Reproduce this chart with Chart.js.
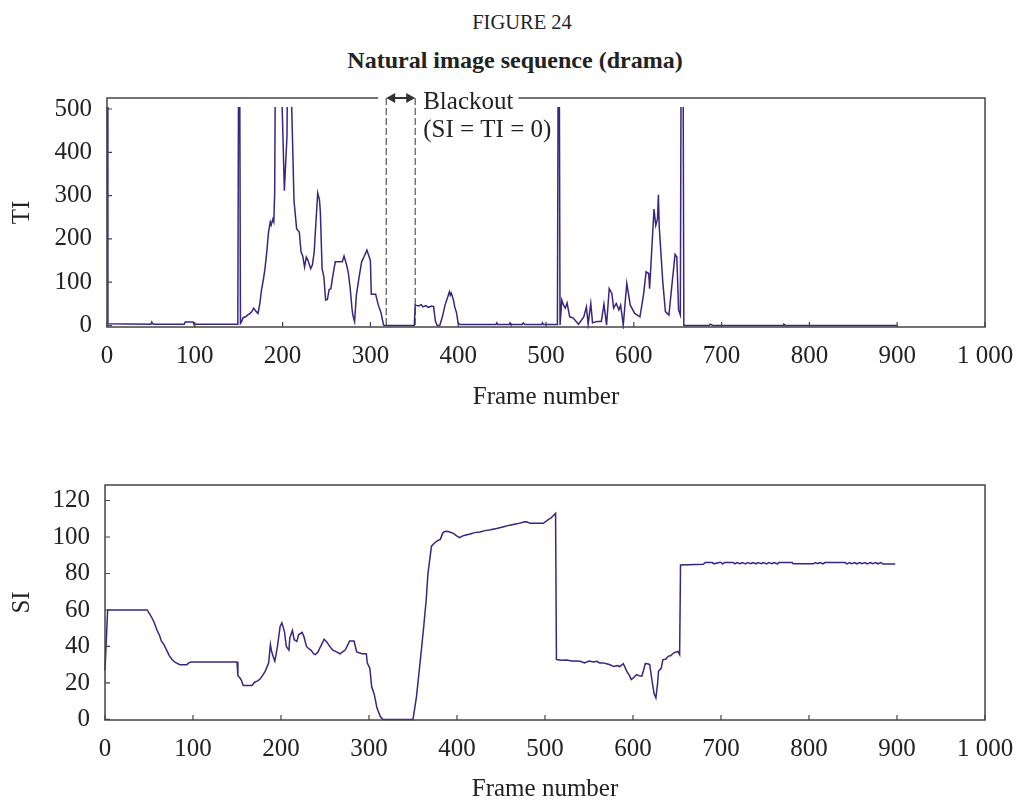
<!DOCTYPE html>
<html><head><meta charset="utf-8">
<script src="https://cdn.jsdelivr.net/npm/chart.js@4"></script>
<style>
html,body{margin:0;padding:0;background:#fff;}
#wrap{position:relative;width:1017px;height:800px;overflow:hidden;}
.t{position:absolute;text-align:center;font-family:'Liberation Serif','Times New Roman',serif;color:#222;line-height:1;}
.box{position:absolute;left:0;width:1017px;}
</style></head><body>
<div id="wrap">
<div class="t" style="top:12px;left:0;width:1044px;font-size:20.5px;">FIGURE 24</div>
<div class="t" style="top:48px;left:0;width:1030px;font-size:24px;font-weight:bold;">Natural image sequence (drama)</div>
<div class="box" style="top:0;height:420px;"><canvas id="c1"></canvas></div>
<div class="box" style="top:420px;height:380px;"><canvas id="c2"></canvas></div>
</div>
<script>
// ---- data ----
const X_TICKS = [0,100,200,300,400,500,600,700,800,900,1000];
const TI_TICKS = [0,100,200,300,400,500];
const SI_TICKS = [0,20,40,60,80,100,120];
const BLACKOUT = [318, 351];

const TI_FRAMES = [0,1,50,51,52,53,88,89,98,99,149,150,151,152,153,155,158,160,163,165,167,170,172,174,176,178,180,182,184,186,187,189,190,191,192,197,202,205,206,208,213,216,219,221,223,225,227,229,232,234,236,238,240,242,243,245,247,249,251,253,255,257,260,265,268,270,273,275,277,279,280,282,284,287,290,293,296,298,300,301,306,309,312,315,316,350,351,355,358,360,363,366,370,372,374,376,379,382,385,388,390,391,392,393,395,396,398,400,402,443,444,445,458,459,460,473,474,476,495,496,497,512,513,514,515,516,518,520,522,524,527,531,537,543,546,548,551,553,558,563,566,569,572,575,577,580,583,585,588,592,596,601,607,611,614,617,618,623,625,627,628,629,633,636,640,643,647,649,651,653,654,656,657,686,687,690,770,771,773,900];
const TI_VALUES = [700,4,3,8,4,3,3,8,8,3,3,700,700,5,8,18,20,24,28,32,40,32,28,50,82,105,132,170,216,239,232,246,240,308,700,700,311,438,700,700,288,223,216,170,160,135,158,150,131,140,170,240,306,290,262,131,112,59,60,83,85,112,147,147,147,160,139,120,85,40,24,9,70,110,147,160,174,162,150,72,72,47,30,1,0,0,47,45,48,43,46,42,45,43,10,0,0,20,47,65,78,70,75,70,55,43,30,5,2,2,6,2,2,6,2,2,6,2,2,6,2,2,2,700,700,1,59,47,40,52,20,17,3,20,43,3,51,6,9,9,49,1,85,74,40,51,36,47,1,97,47,28,20,70,124,120,85,269,231,246,302,227,101,32,24,85,164,158,36,24,700,700,0,0,3,0,0,3,0,0];

const SI_FRAMES = [0,3,48,53,56,59,62,64,67,70,73,76,79,81,85,93,95,98,150,151,153,155,157,167,170,173,176,179,182,186,188,189,191,193,196,199,201,204,206,209,210,213,215,218,220,224,226,229,231,234,237,239,242,244,247,249,252,254,257,259,263,267,270,273,276,278,283,286,292,297,298,301,303,306,309,313,316,350,354,358,362,365,367,371,375,378,381,384,387,390,393,396,400,403,406,409,415,420,426,432,438,445,452,460,468,477,480,483,498,501,504,507,509,512,513,519,525,530,535,540,545,550,555,559,562,566,570,574,578,582,585,589,593,596,598,601,604,607,610,612,614,617,619,622,624,626,628,629,632,634,637,640,643,646,649,651,653,654,680,682,690,692,698,700,702,704,714,716,718,722,724,728,730,734,736,740,742,746,748,752,754,758,760,764,766,781,782,805,807,810,812,816,818,841,843,846,848,852,854,858,860,864,866,870,872,876,878,882,884,898];
const SI_VALUES = [27,60,60,56,53,49,46,43,41,38,35,33,31.5,31,30,30,31,31.5,31.5,24,23,21.5,18.6,18.6,20.4,21,22,24,26.4,31,41,38,34.6,32,40,51,53,48,40,38,44.6,48.8,43.7,42.8,46.4,47.7,45.5,40,39,38,36,35.5,37,39,42,44,42.5,41,39,38,37,36,37,38,41,43,43,37,36,36,31,28,18,13.7,6.4,1.5,0,0,12.7,31,50,65.6,80,95,97,98,98.7,102.4,103.2,103,102.5,102,100.5,99.6,100.5,101,101.6,102.4,102.8,103.5,104,104.7,105.5,106.5,107.2,108.4,108.2,107.5,107.5,108.5,109.7,110.5,111.5,113,32.8,32.4,32.6,32,32,31.9,31,32,31.5,31.9,31,31,30.5,30,29,29.5,29,30.6,26.4,24,21.9,23,24.6,24,23.7,27,30.6,30.5,30,20,14,11.8,20,26.4,28,32.8,33,34.6,35,36.4,37,37.3,35.5,84.7,
  85,86,86,85.3,86,86,85.2,86,86,85.3,86,85.4,86,85.2,86,85.4,86,85.3,86,85.4,86,85.2,86,85.4,86,85.3,86,86,85.3,85.3,86,85.4,86,85.3,86,86,85.3,86,85.4,86,85.3,86,85.4,86,85.2,86,85.4,86,85.3,86,85.2,85.2];

if (TI_FRAMES.length !== TI_VALUES.length) throw new Error('TI length mismatch ' + TI_FRAMES.length + ' vs ' + TI_VALUES.length);
if (SI_FRAMES.length !== SI_VALUES.length) throw new Error('SI length mismatch ' + SI_FRAMES.length + ' vs ' + SI_VALUES.length);

// ---- style ----
const FONT = "'Liberation Serif','Times New Roman',serif";
const LINE = '#3a2580';
const AXIS = '#444444';
const TXT = '#222222';

function pts(fr, vals){ return fr.map((f,i)=>({x:f,y:vals[i]})); }
function xLabel(v){ return v===1000 ? '1 000' : String(v); }

const framePlugin = {
  id:'frame',
  afterDatasetsDraw(chart){
    const {ctx, chartArea:a, scales} = chart;
    ctx.save();
    ctx.strokeStyle = AXIS; ctx.lineWidth = 1.5;
    ctx.strokeRect(a.left, a.top, a.right-a.left, a.bottom-a.top);
    ctx.lineWidth = 1.2;
    ctx.beginPath();
    scales.x.ticks.forEach(t=>{ const px = scales.x.getPixelForValue(t.value); ctx.moveTo(px,a.bottom); ctx.lineTo(px,a.bottom-5); });
    scales.y.ticks.forEach(t=>{ const py = scales.y.getPixelForValue(t.value); ctx.moveTo(a.left,py); ctx.lineTo(a.left+5,py); });
    ctx.stroke();
    const ann = chart.options.plugins.frame && chart.options.plugins.frame.blackout;
    if (ann){
      const x1 = scales.x.getPixelForValue(ann[0]);
      const x2 = scales.x.getPixelForValue(ann[1]);
      ctx.font = '25px ' + FONT;
      const w = ctx.measureText('Blackout').width;
      const tx = x2 + 8;
      ctx.fillStyle = '#fff';
      ctx.fillRect(x1-8, a.top-3, (tx + w + 5) - (x1-8), 6);
      ctx.strokeStyle = '#333'; ctx.lineWidth = 1;
      ctx.setLineDash([7,3]);
      ctx.beginPath();
      [x1,x2].forEach(x=>{ ctx.moveTo(x,a.top); ctx.lineTo(x,a.bottom); });
      ctx.stroke();
      ctx.setLineDash([]);
      const y = a.top;
      ctx.strokeStyle = '#333'; ctx.fillStyle = '#333'; ctx.lineWidth = 2;
      ctx.beginPath(); ctx.moveTo(x1+6,y); ctx.lineTo(x2-6,y); ctx.stroke();
      ctx.beginPath(); ctx.moveTo(x1,y); ctx.lineTo(x1+9,y-5); ctx.lineTo(x1+9,y+5); ctx.closePath(); ctx.fill();
      ctx.beginPath(); ctx.moveTo(x2,y); ctx.lineTo(x2-9,y-5); ctx.lineTo(x2-9,y+5); ctx.closePath(); ctx.fill();
      ctx.fillStyle = TXT; ctx.textAlign = 'left'; ctx.textBaseline = 'alphabetic';
      ctx.fillText('Blackout', tx, a.top + 11);
      ctx.fillText('(SI = TI = 0)', tx, a.top + 39);
    }
    ctx.restore();
  }
};

function makeChart(id, frames, vals, yTicks, ymin, ymax, yTitle, padTop, xH, yW, blackout, clipTop, titlePad){
  return new Chart(document.getElementById(id), {
    type:'line',
    data:{ datasets:[{ data: pts(frames, vals), borderColor: LINE, borderWidth: 1.5, pointRadius: 0, tension: 0, fill:false,
      clip:{left:2, right:2, top:clipTop, bottom:2} }] },
    options:{
      responsive:true, maintainAspectRatio:false, animation:false,
      layout:{ padding:{ left:0, right:32, top:padTop, bottom:0 } },
      plugins:{ legend:{display:false}, tooltip:{enabled:false}, frame:{ blackout } },
      scales:{
        x:{ type:'linear', min:0, max:1000,
          afterBuildTicks: s=>{ s.ticks = X_TICKS.map(v=>({value:v})); },
          afterFit: s=>{ s.height = xH; s.paddingLeft = 0; s.paddingRight = 0; },
          grid:{ display:false, drawTicks:false }, border:{ display:false },
          ticks:{ callback: v=>xLabel(v), font:{ family:FONT, size:25 }, color:TXT, padding:14, maxRotation:0, autoSkip:false },
          title:{ display:true, text:'Frame number', font:{ family:FONT, size:25, lineHeight:1 }, color:TXT, padding:{ top:0, bottom:titlePad } }
        },
        y:{ type:'linear', min:ymin, max:ymax,
          afterBuildTicks: s=>{ s.ticks = yTicks.map(v=>({value:v})); },
          afterFit: s=>{ s.width = yW; s.paddingTop = 0; s.paddingBottom = 0; },
          grid:{ display:false, drawTicks:false }, border:{ display:false },
          ticks:{ font:{ family:FONT, size:25 }, color:TXT, padding: 15, autoSkip:false },
          title:{ display:true, text:yTitle, font:{ family:FONT, size:25, lineHeight:1 }, color:TXT, padding:{ top:10, bottom:0 } }
        }
      }
    },
    plugins:[framePlugin]
  });
}

makeChart('c1', TI_FRAMES, TI_VALUES, TI_TICKS, -3.5, 525.4, 'TI', 98, 93, 107, BLACKOUT, -9, 10);
makeChart('c2', SI_FRAMES, SI_VALUES, SI_TICKS, -0.3, 128.5, 'SI', 65, 80, 105, null, 2, -2);
</script>
</body></html>
